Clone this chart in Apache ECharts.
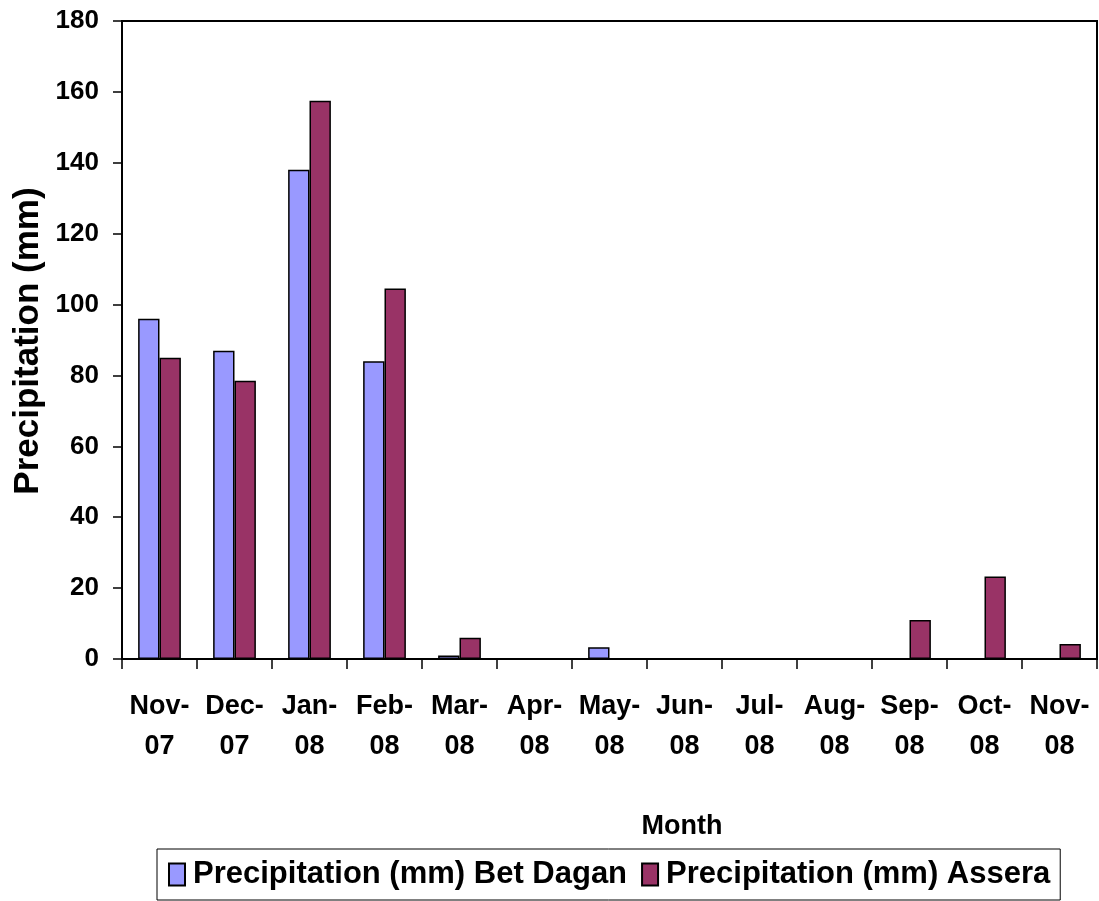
<!DOCTYPE html>
<html>
<head>
<meta charset="utf-8">
<script src="https://cdn.jsdelivr.net/npm/echarts@6/dist/echarts.min.js"></script>
<style>
html,body{margin:0;padding:0;background:#fff;}
#chart{width:1099px;height:901px;}
</style>
</head>
<body>
<div id="chart"></div>
<script>
const categories = ['Nov-\n07','Dec-\n07','Jan-\n08','Feb-\n08','Mar-\n08','Apr-\n08','May-\n08','Jun-\n08','Jul-\n08','Aug-\n08','Sep-\n08','Oct-\n08','Nov-\n08'];
const betDagan = [96, 87, 138, 84, 1, 0, 3.3, 0, 0, 0, 0, 0, 0];
const assera = [85, 78.5, 157.5, 104.5, 6, 0, 0, 0, 0, 0, 11, 23.3, 4.2];
const seriesNames = ['Precipitation (mm) Bet Dagan', 'Precipitation (mm) Assera'];
const yTicks = {min: 0, max: 180, interval: 20};

const FONT = '"Liberation Sans", Arial, sans-serif';
const chart = echarts.init(document.getElementById('chart'), null, {renderer: 'canvas'});
chart.setOption({
  animation: false,
  backgroundColor: '#fff',
  grid: {left: 122, right: 2, top: 21, bottom: 242, show: true, borderColor: '#000', borderWidth: 2, backgroundColor: 'transparent'},
  xAxis: {
    type: 'category',
    data: categories,
    boundaryGap: true,
    axisLine: {lineStyle: {color: '#000', width: 2}},
    axisTick: {show: true, length: 10, lineStyle: {color: '#000', width: 1.5}},
    axisLabel: {fontFamily: FONT, fontWeight: 'bold', fontSize: 27, color: '#000', lineHeight: 40, margin: 28, interval: 0},
    splitLine: {show: false}
  },
  yAxis: {
    type: 'value',
    min: yTicks.min, max: yTicks.max, interval: yTicks.interval,
    axisLine: {show: true, lineStyle: {color: '#000', width: 2}},
    axisTick: {show: true, length: 9, lineStyle: {color: '#000', width: 1.5}},
    axisLabel: {fontFamily: FONT, fontWeight: 'bold', fontSize: 26, color: '#000', margin: 23},
    splitLine: {show: false}
  },
  legend: {
    left: 157, top: 849,
    data: seriesNames,
    orient: 'horizontal',
    itemWidth: 16, itemHeight: 22, itemGap: 14,
    padding: [10, 10, 10, 11],
    borderColor: '#000', borderWidth: 1,
    icon: 'rect',
    textStyle: {fontFamily: FONT, fontWeight: 'bold', fontSize: 31, color: '#000', padding: [0, 0, 0, 3]}
  },
  graphic: [
    {type: 'text', x: 28, y: 341, rotation: Math.PI / 2,
     style: {text: 'Precipitation (mm)', fontFamily: FONT, fontWeight: 'bold', fontSize: 35, fill: '#000', align: 'center', verticalAlign: 'middle'}},
    {type: 'text', x: 682, y: 827,
     style: {text: 'Month', fontFamily: FONT, fontWeight: 'bold', fontSize: 27, fill: '#000', align: 'center', verticalAlign: 'middle'}}
  ],
  series: [
    {name: seriesNames[0], type: 'bar', data: betDagan, barGap: '0%', barCategoryGap: '43%',
     itemStyle: {color: '#9999FF', borderColor: '#000', borderWidth: 1.5}},
    {name: seriesNames[1], type: 'bar', data: assera, barGap: '0%', barCategoryGap: '43%',
     itemStyle: {color: '#993366', borderColor: '#000', borderWidth: 1.5}}
  ]
});
</script>
</body>
</html>
